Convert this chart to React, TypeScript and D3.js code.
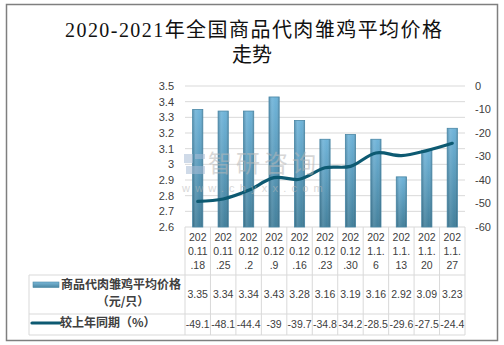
import React from "react";
import * as d3 from "d3";

const categories = [
  "2020.11.18", "2020.11.25", "2020.12.2", "2020.12.9", "2020.12.16",
  "2020.12.23", "2020.12.30", "2021.1.6", "2021.1.13", "2021.1.20", "2021.1.27",
];
const prices = [3.35, 3.34, 3.34, 3.43, 3.28, 3.16, 3.19, 3.16, 2.92, 3.09, 3.23];
const yoy = [-49.1, -48.1, -44.4, -39, -39.7, -34.8, -34.2, -28.5, -29.6, -27.5, -24.4];
const leftTicks = [2.6, 2.7, 2.8, 2.9, 3, 3.1, 3.2, 3.3, 3.4, 3.5];
const rightTicks = [0, -10, -20, -30, -40, -50, -60];
const seriesNames = ["商品代肉雏鸡平均价格", "（元/只）", "较上年同期（%）"];
const titleLines = ["2020-2021年全国商品代肉雏鸡平均价格", "走势"];

const W = 504, H = 345;
const plotL = 185, plotR = 465, plotT = 86, plotB = 227;
const tableL = 29, rowTop = 275, rowMid = 314, rowBot = 335;
const grid = "#d9d9d9";
const txt = "#404040";
const lineColor = "#0d5a72";
const numFont = "'Liberation Sans', Arial, sans-serif";
const cjkFont = "'Noto Sans CJK SC', 'Liberation Sans', sans-serif";

export default function App() {
  const x = d3.scaleBand<string>().domain(categories).range([plotL, plotR]).padding(0);
  const bw = x.bandwidth();
  const yL = d3.scaleLinear().domain([2.6, 3.5]).range([plotB, plotT]);
  const yR = d3.scaleLinear().domain([-60, 0]).range([plotB, plotT]);
  const barW = bw * 0.4;

  const line = d3
    .line<number>()
    .x((_, i) => (x(categories[i]) as number) + bw / 2)
    .y((d) => yR(d))
    .curve(d3.curveCatmullRom.alpha(0.5));

  const split = (s: string) => [s.slice(0, 3), s.slice(3, 7), s.slice(7)];

  return (
    <svg
      width={W}
      height={H}
      style={{ position: "absolute", left: 0, top: 0, background: "#fff" }}
    >
      <defs>
        <linearGradient id="barV" x1="0" y1="0" x2="0" y2="1">
          <stop offset="0" stopColor="#6cb2d8" />
          <stop offset="1" stopColor="#3f7d99" />
        </linearGradient>
        <linearGradient id="barH" x1="0" y1="0" x2="1" y2="0">
          <stop offset="0" stopColor="#000" stopOpacity="0.18" />
          <stop offset="0.3" stopColor="#fff" stopOpacity="0.12" />
          <stop offset="0.7" stopColor="#fff" stopOpacity="0.02" />
          <stop offset="1" stopColor="#000" stopOpacity="0.2" />
        </linearGradient>
        <linearGradient id="legV" x1="0" y1="0" x2="0" y2="1">
          <stop offset="0" stopColor="#7ab8d8" />
          <stop offset="1" stopColor="#4a86a2" />
        </linearGradient>
      </defs>
      <rect x={0} y={0} width={W} height={H} fill="#fff" />
      <rect x={6.5} y={4.5} width={491} height={336} fill="none" stroke="#7f7f7f" strokeWidth={1.5} />

      {/* title */}
      <text
        x={65}
        y={37}
        textLength={377}
        lengthAdjust="spacing"
        fontFamily={"'Liberation Serif', 'Noto Sans CJK SC', serif"}
        fontSize={20}
        fill="#111"
      >
        {titleLines[0]}
      </text>
      <text
        x={252}
        y={62}
        textAnchor="middle"
        fontFamily={"'Liberation Serif', 'Noto Sans CJK SC', serif"}
        fontSize={20}
        fill="#111"
      >
        {titleLines[1]}
      </text>

      {/* gridlines */}
      {leftTicks.map((t) => (
        <line key={t} x1={plotL} x2={plotR} y1={yL(t)} y2={yL(t)} stroke={grid} strokeWidth={1} />
      ))}

      {/* left axis labels */}
      {leftTicks.map((t) => (
        <text
          key={"l" + t}
          x={174}
          y={yL(t)}
          dy="0.35em"
          textAnchor="end"
          fontFamily={numFont}
          fontSize={11}
          fill={txt}
        >
          {String(t)}
        </text>
      ))}
      {/* right axis labels */}
      {rightTicks.map((t) => (
        <text
          key={"r" + t}
          x={475}
          y={yR(t)}
          dy="0.35em"
          textAnchor="start"
          fontFamily={numFont}
          fontSize={11}
          fill={txt}
        >
          {String(t)}
        </text>
      ))}

      {/* bars */}
      {prices.map((v, i) => {
        const cx = (x(categories[i]) as number) + bw / 2;
        const y0 = yL(v);
        return (
          <g key={"b" + i}>
            <rect x={cx - barW / 2} y={y0} width={barW} height={plotB - y0} fill="url(#barV)" />
            <rect x={cx - barW / 2} y={y0} width={barW} height={plotB - y0} fill="url(#barH)" stroke="#4a87a5" strokeWidth={0.8} />
          </g>
        );
      })}

      {/* line */}
      <path d={line(yoy) || ""} fill="none" stroke={lineColor} strokeWidth={3.2} strokeLinejoin="round" strokeLinecap="round" />

      {/* watermark */}
      <g opacity={0.55}>
        <rect x={184} y={154} width={9} height={9} fill="#a9bdd6" />
        <rect x={195} y={154} width={10} height={5} fill="#a9bdd6" />
        <rect x={186} y={166} width={19} height={8} fill="#a9bdd6" />
        <text x={208} y={172} fontFamily={cjkFont} fontSize={24} letterSpacing={4} fill="#b8b8b8">
          智研咨询
        </text>
        <text x={182} y={192} fontFamily={numFont} fontSize={11} letterSpacing={5.2} fill="#b8b8b8">
          www.chyxx.com
        </text>
      </g>

      {/* table lines */}
      {d3.range(categories.length + 1).map((k) => {
        const xx = plotL + k * bw;
        return <line key={"v" + k} x1={xx} x2={xx} y1={plotB} y2={rowBot} stroke={grid} strokeWidth={1} />;
      })}
      <line x1={tableL} x2={tableL} y1={rowTop} y2={rowBot} stroke={grid} strokeWidth={1} />
      {[rowTop, rowMid, rowBot].map((yy) => (
        <line key={"h" + yy} x1={tableL} x2={plotR} y1={yy} y2={yy} stroke={grid} strokeWidth={1} />
      ))}

      {/* header labels */}
      {categories.map((c, i) => {
        const cx = (x(c) as number) + bw / 2;
        return split(c).map((p, j) => (
          <text
            key={"c" + i + "_" + j}
            x={cx}
            y={237 + j * 14}
            dy="0.35em"
            textAnchor="middle"
            fontFamily={numFont}
            fontSize={10.5}
            fill={txt}
          >
            {p}
          </text>
        ));
      })}

      {/* values */}
      {prices.map((v, i) => (
        <text
          key={"pv" + i}
          x={(x(categories[i]) as number) + bw / 2}
          y={294}
          dy="0.35em"
          textAnchor="middle"
          fontFamily={numFont}
          fontSize={10.5}
          fill={txt}
        >
          {String(v)}
        </text>
      ))}
      {yoy.map((v, i) => (
        <text
          key={"yv" + i}
          x={(x(categories[i]) as number) + bw / 2}
          y={324}
          dy="0.35em"
          textAnchor="middle"
          fontFamily={numFont}
          fontSize={10.5}
          fill={txt}
        >
          {String(v)}
        </text>
      ))}

      {/* legend cells */}
      <rect x={33} y={282} width={26} height={5.5} fill="url(#legV)" stroke="#4a87a5" strokeWidth={0.6} />
      <text x={61} y={285} dy="0.35em" fontFamily={cjkFont} fontSize={12} fontWeight="bold" fill={txt}>
        {seriesNames[0]}
      </text>
      <text x={123} y={302} dy="0.35em" textAnchor="middle" fontFamily={cjkFont} fontSize={12} fontWeight="bold" fill={txt}>
        {seriesNames[1]}
      </text>
      <line x1={32} x2={60} y1={323} y2={323} stroke={lineColor} strokeWidth={3.2} strokeLinecap="round" />
      <text x={60} y={323} dy="0.35em" fontFamily={cjkFont} fontSize={12} fontWeight="bold" fill={txt}>
        {seriesNames[2]}
      </text>
    </svg>
  );
}
